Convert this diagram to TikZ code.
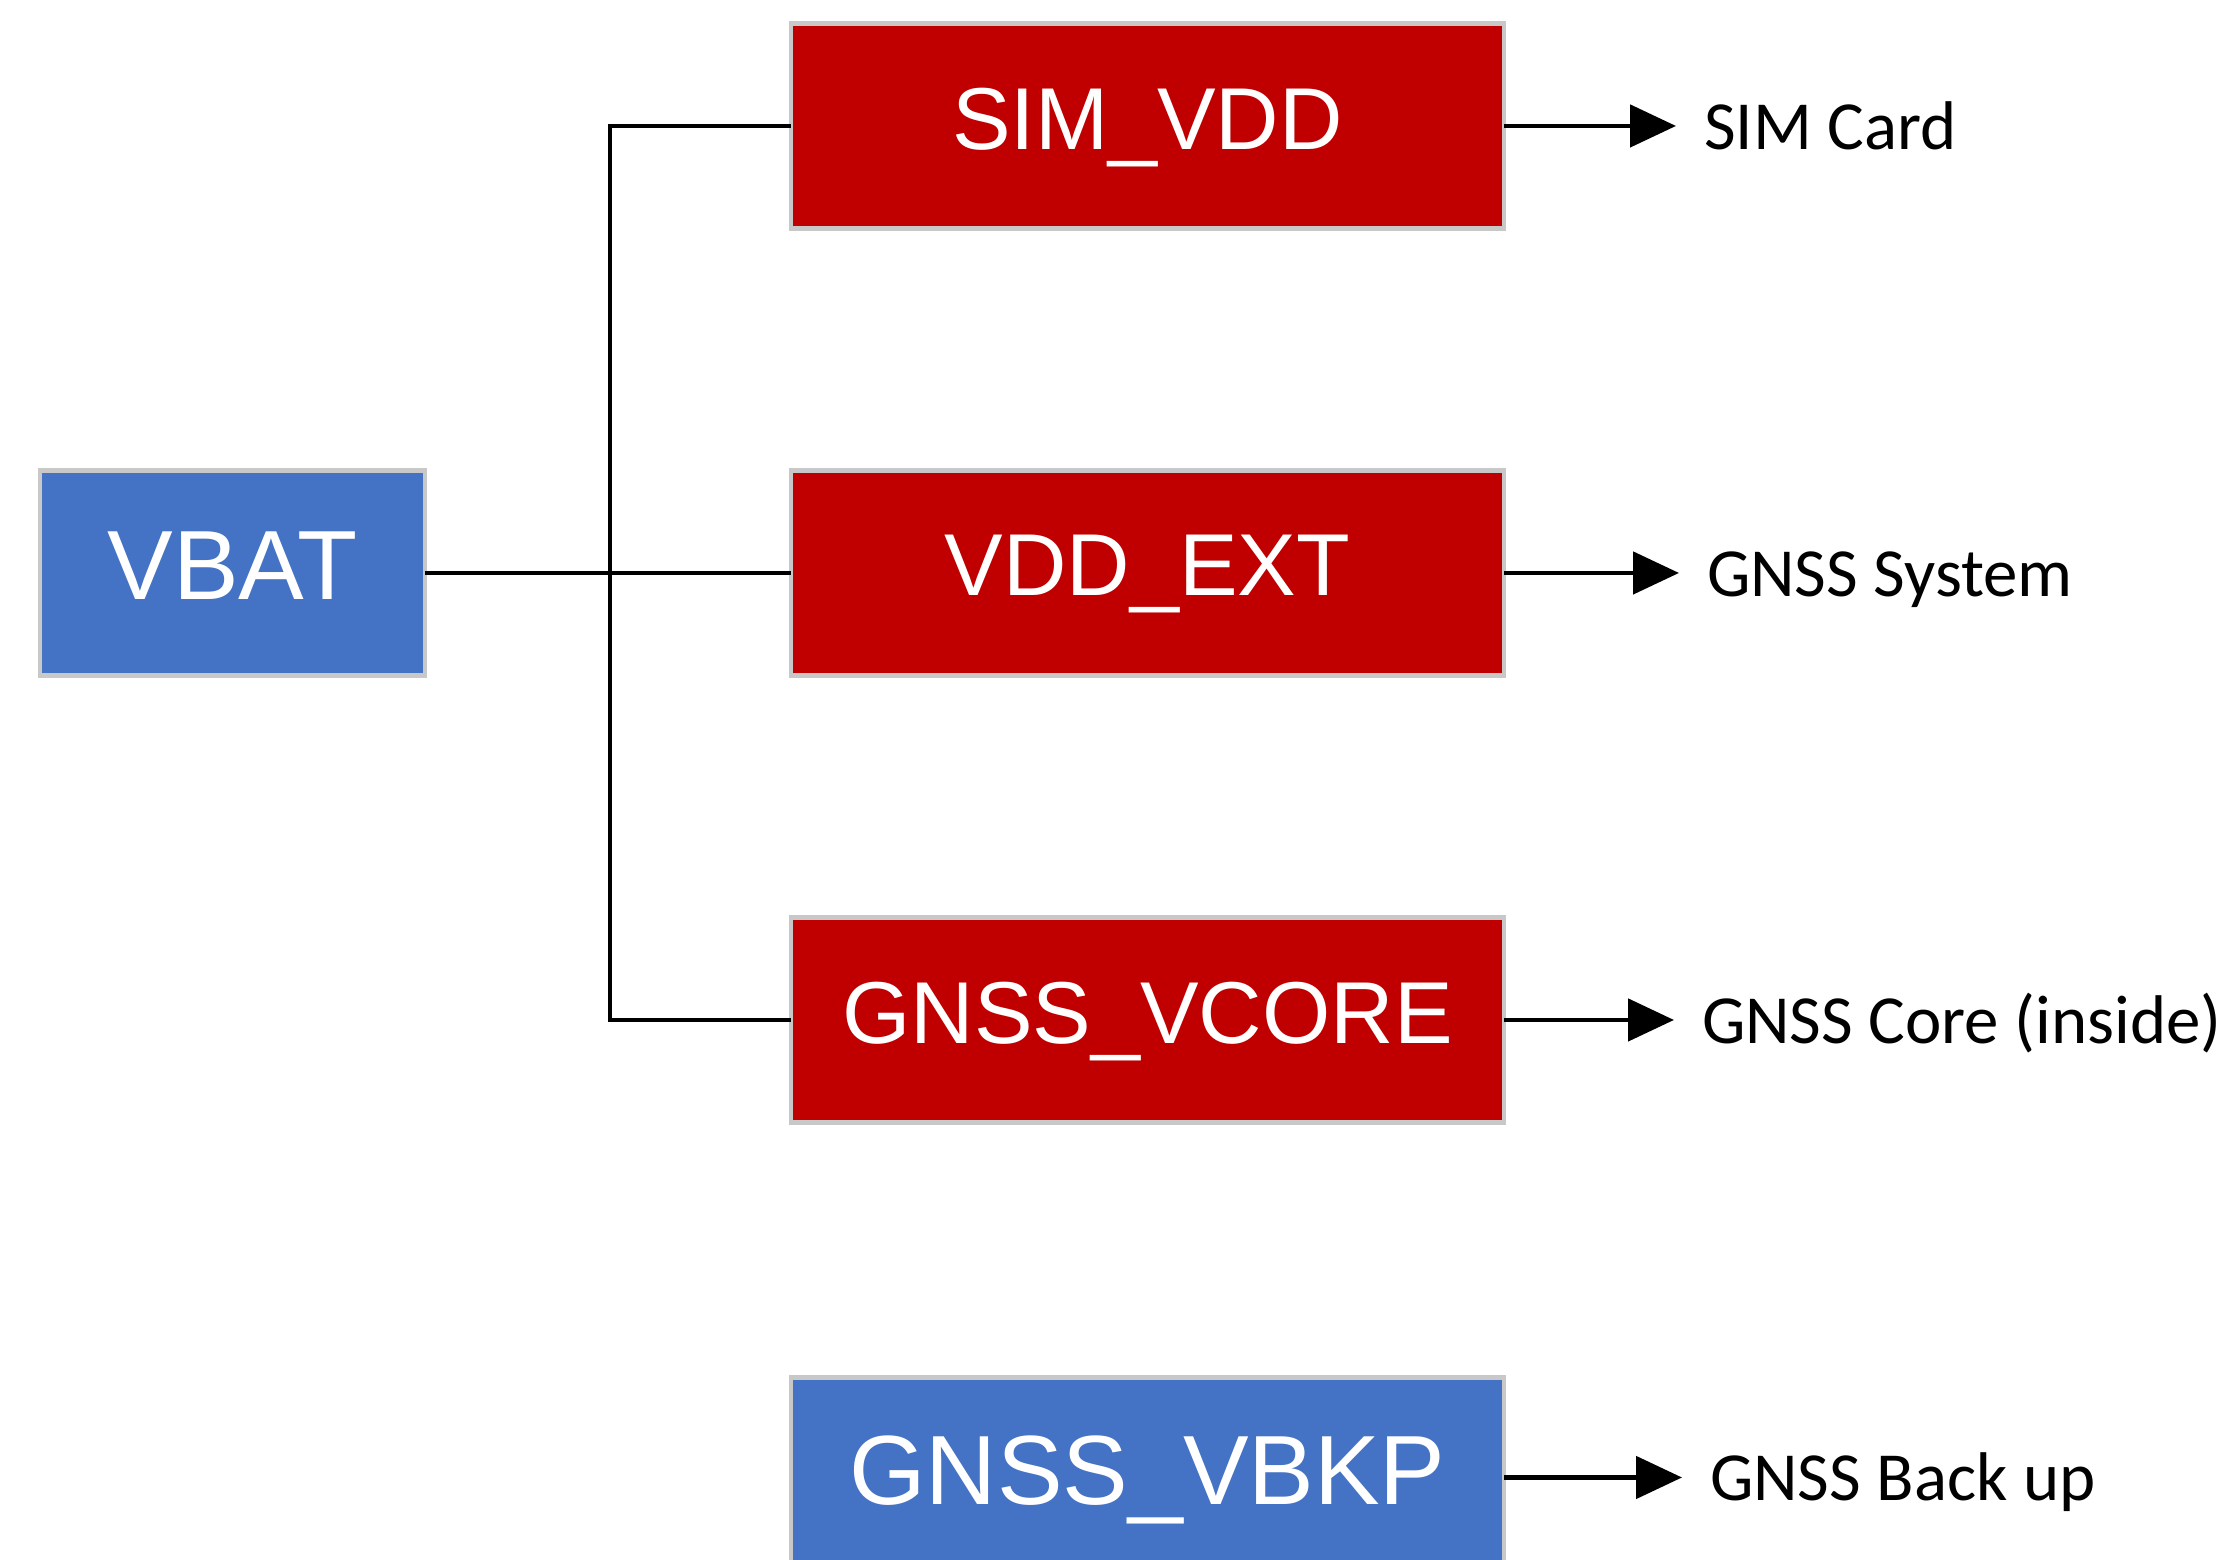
\documentclass[tikz,border=0pt]{standalone}
\usepackage{fontspec}
\newfontfamily\boxfont{Liberation Sans}
\newfontfamily\lblfont{Carlito}
\usepackage{tikz}
\usetikzlibrary{positioning, arrows.meta}

\definecolor{railred}{HTML}{C00000}
\definecolor{railblue}{HTML}{4472C4}
\definecolor{railedge}{HTML}{C8C8C8}

\tikzset{
	rail/.style = {draw=railedge, line width=1.2pt, text=white, minimum height=2.05cm, outer sep=0pt, text depth=0.15cm},
	redrail/.style = {rail, fill=railred, minimum width=7.13cm, font=\boxfont\fontsize{25}{30}\selectfont},
	bluerail/.style = {rail, fill=railblue, font=\boxfont\fontsize{28}{33}\selectfont},
	load/.style = {inner sep=0pt, outer sep=0pt, text height=0.47cm, text depth=0pt, font=\lblfont\fontsize{19.6}{23}\selectfont},
	feed/.style = {line width=1.4pt},
	supply/.style = {feed, -{Triangle[length=0.46cm, width=0.42cm]}, shorten >=0.28cm}
}

\begin{document}
\begin{tikzpicture}
			\useasboundingbox (0,0) rectangle (22.4,15.6);
			\clip (0,0) rectangle (22.4,15.6);

			\node [redrail] (simvdd) at (11.475,14.34) {SIM\_VDD};
			\node [redrail, below=2.42cm of simvdd] (vddext) {VDD\_EXT};
			\node [redrail, below=2.42cm of vddext] (vcore) {GNSS\_VCORE};
			\node [bluerail, minimum width=7.13cm, minimum height=2cm, below=2.55cm of vcore] (vbkp) {GNSS\_VBKP};
			\node [bluerail, minimum width=3.85cm, left=3.66cm of vddext] (vbat) {VBAT};

			\coordinate [left=1.81cm of vddext.west] (bus);
			\draw [feed] (vbat) -- (vddext);
			\draw [feed] (simvdd) -| (bus) |- (vcore);

			\node [load, right=2cm of simvdd.east] (simcard) {SIM Card};
			\node [load, right=2.03cm of vddext.east] (gnsssys) {GNSS System};
			\node [load, right=1.98cm of vcore.east] (gnsscore) {GNSS Core (inside)};
			\node [load, right=2.06cm of vbkp.east] (backup) {GNSS Back up};

			\draw [supply] (simvdd) -- (simcard);
			\draw [supply] (vddext) -- (gnsssys);
			\draw [supply] (vcore) -- (gnsscore);
			\draw [supply] (vbkp) -- (backup);
		\end{tikzpicture}
\end{document}
